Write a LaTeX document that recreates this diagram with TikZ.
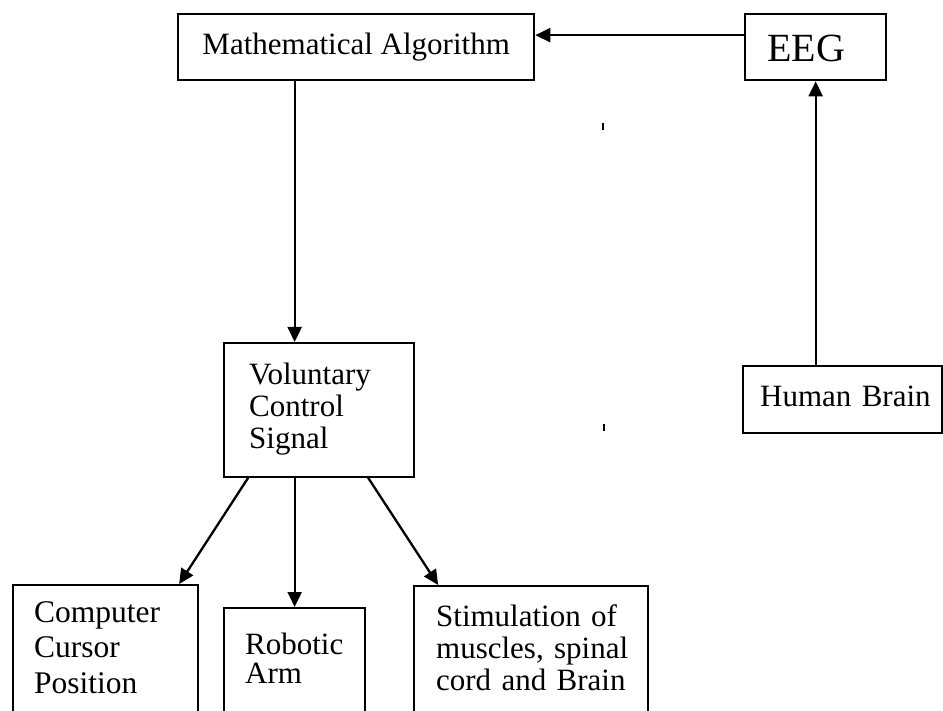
\documentclass[tikz,border=0pt]{standalone}
\usepackage{fontspec}
\setmainfont{Liberation Serif}
\usetikzlibrary{arrows.meta}
\begin{document}
\begin{tikzpicture}[x=1pt,y=-1pt,
  box/.style={draw, line width=2.3pt, rectangle, anchor=north west,
    inner xsep=0pt, font=\fontsize{31}{32}\selectfont},
  arr/.style={line width=2.3pt, -{Triangle[length=15pt,width=14pt]}},
  speck/.style={line width=1.6pt}
]
\useasboundingbox (0,0) rectangle (943,711);
\clip (0,0) rectangle (943,711);

% top row
\node[box, minimum width=356pt, align=center, text height=21pt, text depth=7pt,
      inner ysep=19pt] (math) at (177,13) {Mathematical Algorithm};
\node[box, font=\fontsize{40}{44}\selectfont, align=left, text width=97pt,
      inner xsep=22pt, text height=37pt, text depth=9pt, inner ysep=10pt]
      (eeg) at (744,13) {EEG};

% signal source and processing
\node[box, align=right, text width=176pt, inner xsep=11.5pt, text height=30pt,
      text depth=17pt, inner ysep=10pt] (brain) at (742,365) {Human Brain};
\node[box, align=left, text width=140pt, inner xsep=25pt, inner ysep=20pt,
      text depth=72pt] (vol) at (223,342) {Voluntary\\Control\\Signal};

% outputs (open at the bottom)
\node[box, align=left, text width=143pt, inner xsep=21pt, inner ysep=16pt,
      text depth=90pt, font=\fontsize{31.5}{35.5}\selectfont]
      (comp) at (12,584) {Computer\\Cursor\\Position};
\node[box, align=left, text width=99pt, inner xsep=21pt, inner ysep=25pt,
      text depth=90pt, font=\fontsize{31}{28.5}\selectfont]
      (robot) at (223,607) {Robotic\\Arm};
\node[box, align=left, text width=190pt, inner xsep=22pt, inner ysep=19pt,
      text depth=90pt, font=\fontsize{31}{32}\selectfont]
      (stim) at (413,585) {Stimulation~of\\muscles,~spinal\\cord~and~Brain};

% connectors
\draw[arr] ([yshift=12pt]eeg.west) -- ([yshift=12pt]math.east);
\draw[arr] (brain.north -| eeg.south) -- (eeg.south);
\draw[arr] (math.south -| robot.north) -- (vol.north -| robot.north);
\draw[arr] ([xshift=-71pt]vol.south) -- ([xshift=73.5pt]comp.north);
\draw[arr] (vol.south -| robot.north) -- (robot.north);
\draw[arr] ([xshift=49pt]vol.south) -- ([xshift=-93pt]stim.north);

% small specks
\draw[speck] (603,123) -- (603,130);
\draw[speck] (604,424) -- (604,431);
\end{tikzpicture}
\end{document}
